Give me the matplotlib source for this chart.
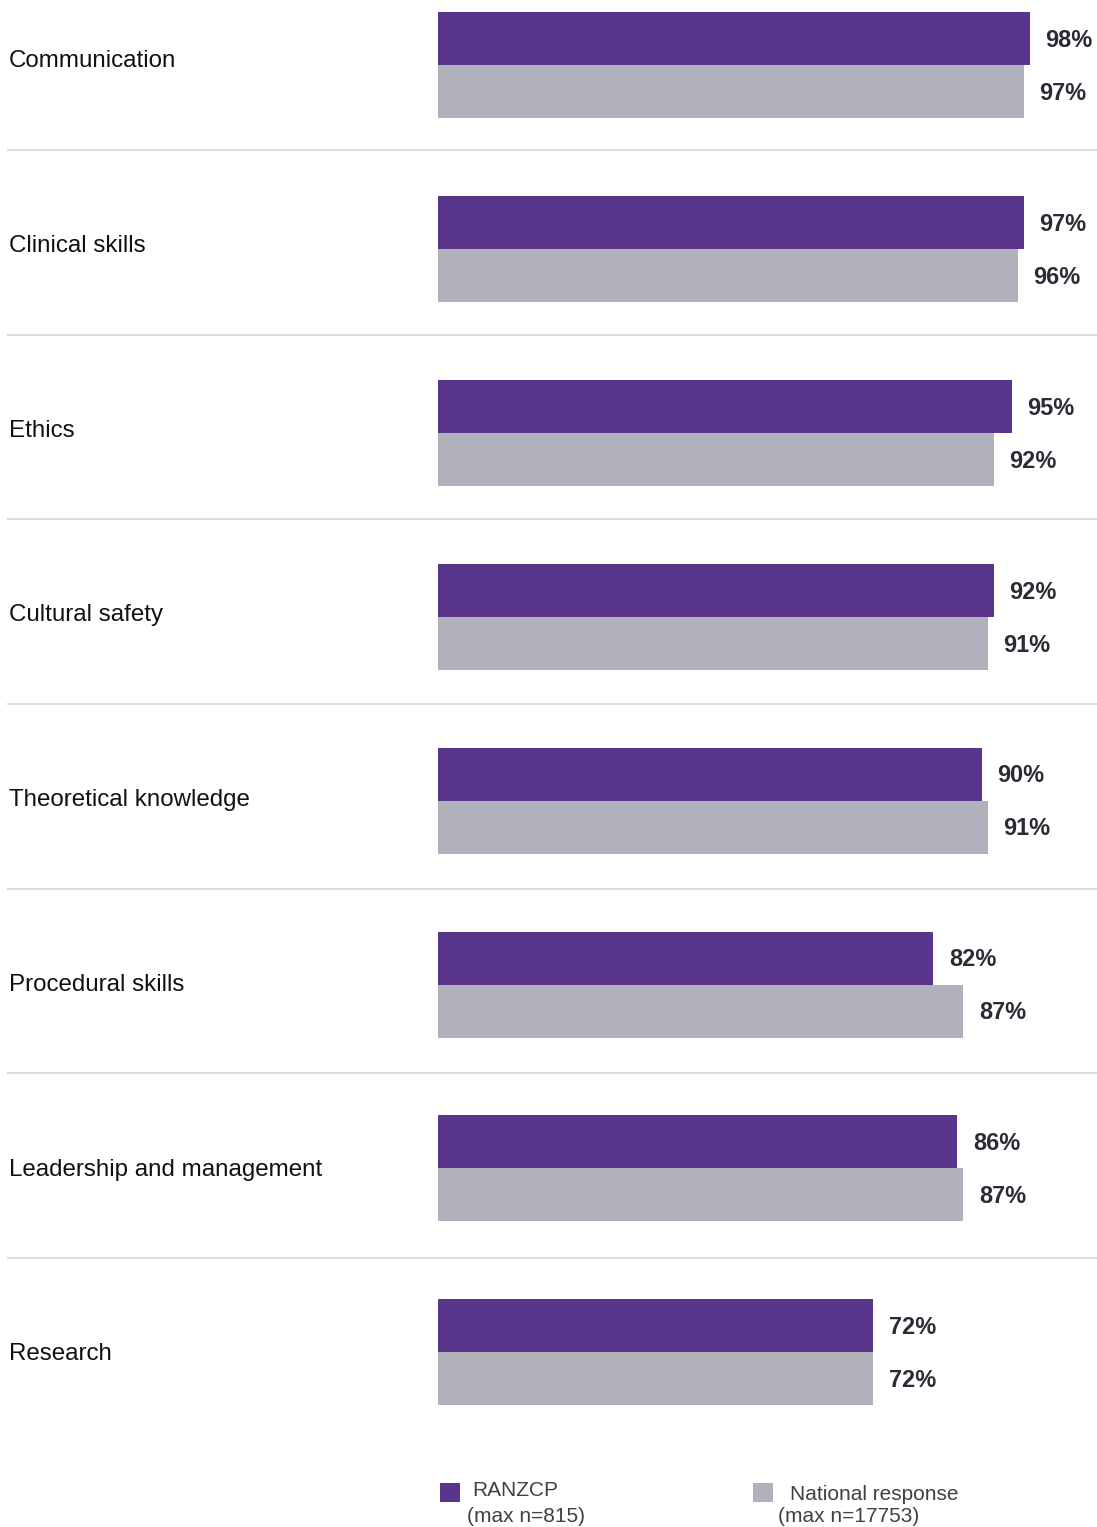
import matplotlib.pyplot as plt
from matplotlib.patches import Rectangle
from matplotlib.transforms import blended_transform_factory

plt.rcParams["font.family"] = ["Liberation Sans", "DejaVu Sans"]

categories = [
    "Communication",
    "Clinical skills",
    "Ethics",
    "Cultural safety",
    "Theoretical knowledge",
    "Procedural skills",
    "Leadership and management",
    "Research",
]
ranzcp = [98, 97, 95, 92, 90, 82, 86, 72]
national = [97, 96, 92, 91, 91, 87, 87, 72]
series_names = ["RANZCP", "National response"]
series_notes = ["(max n=815)", "(max n=17753)"]

PURPLE = "#59358c"
GREY = "#b1b1bc"
LABEL = "#2b2b35"

W, H = 1097, 1527
fig = plt.figure(figsize=(W / 100, H / 100), dpi=100)

# bars axis: x=0 sits at pixel 438, 6.04 px per percent
x0 = 438
ax = fig.add_axes([x0 / W, 0, (W - x0) / W, 1])
ax.set_xlim(0, (W - x0) / 6.04)
row_px = 183.9
first_px = 65
ax.set_ylim((H - first_px) / row_px, -first_px / row_px)
ax.axis("off")

bar_h = 53 / row_px
for i, (a, b) in enumerate(zip(ranzcp, national)):
    ax.barh(i - bar_h / 2, a, height=bar_h, color=PURPLE, linewidth=0)
    ax.barh(i + bar_h / 2, b, height=bar_h, color=GREY, linewidth=0)
    ax.text(a + 2.6, i - bar_h / 2 + 0.01, f"{a}%", ha="left", va="center",
            fontsize=16.9, fontweight="bold", color=LABEL)
    ax.text(b + 2.6, i + bar_h / 2 + 0.01, f"{b}%", ha="left", va="center",
            fontsize=16.9, fontweight="bold", color=LABEL)

# category labels and separators sit on a slightly wider pitch than the bars
pitch = 184.7 / row_px
trans = blended_transform_factory(fig.transFigure, ax.transData)
for i, cat in enumerate(categories):
    fig.text(9 / W, i * pitch - 0.02, cat, transform=trans, ha="left",
             va="center", fontsize=17.4, color="#111111")
    if i < len(categories) - 1:
        y = i * pitch + 0.462
        ax.plot([8 / W, 1.0], [y, y], transform=trans,
                color="#d9d9d9", linewidth=1.3, clip_on=False)

# legend
colors = [PURPLE, GREY]
sq_x = [440, 753]
name_x = [472, 790]
note_x = [467, 778]
for k in range(2):
    fig.add_artist(Rectangle((sq_x[k] / W, 1 - 1502 / H), 20 / W, 19 / H,
                             transform=fig.transFigure, color=colors[k], linewidth=0))
    fig.text(name_x[k] / W, 1 - (1491 + 3 * k) / H, series_names[k],
             ha="left", va="center", fontsize=15, color="#404040")
    fig.text(note_x[k] / W, 1 - 1517 / H, series_notes[k],
             ha="left", va="center", fontsize=15, color="#404040")

fig.savefig("out.png", dpi=100)
